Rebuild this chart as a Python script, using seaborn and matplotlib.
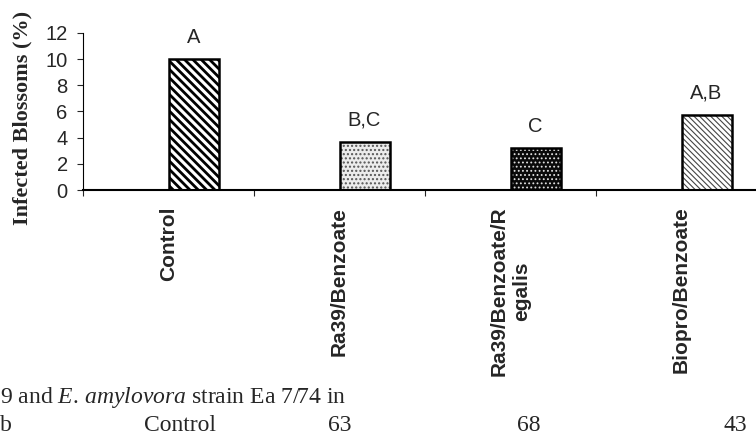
import numpy as np
import pandas as pd
import seaborn as sns
import matplotlib.pyplot as plt

treatments = ['Control', 'Ra39/Benzoate', 'Ra39/Benzoate/R\negalis', 'Biopro/Benzoate']
infected = [10.0, 3.7, 3.2, 5.7]
letters = ['A', 'B,C', 'C', 'A,B']
yticks = [0, 2, 4, 6, 8, 10, 12]
table_row = ['Control', '63', '68', '43']

sns.set_style('ticks')
plt.rcParams['font.family'] = ['Liberation Sans', 'DejaVu Sans']
plt.rcParams['mathtext.fontset'] = 'custom'
plt.rcParams['mathtext.rm'] = 'Liberation Serif'
plt.rcParams['mathtext.it'] = 'Liberation Serif:italic'

# the excel chart had an empty first series, so the real bars sit right of the category centre
df = pd.concat([
    pd.DataFrame({'treatment': treatments, 'infected': 0.0, 'series': 'blank'}),
    pd.DataFrame({'treatment': treatments, 'infected': infected, 'series': 'infected'}),
])

fig = plt.figure(figsize=(7.56, 4.48), dpi=100)
ax = fig.add_axes([83 / 756, 1 - 190 / 448, (767 - 83) / 756, 157 / 448])

sns.barplot(data=df, x='treatment', y='infected', hue='series', hue_order=['blank', 'infected'],
            order=treatments, width=0.585, ax=ax, legend=False, errorbar=None)

for p in ax.containers[0].patches:
    p.set_visible(False)

bars = ax.containers[-1]
faces = ['white', '#ececec', '#0a0a0a', 'white']
hatches = ['\\\\\\\\', '....', '....', '\\\\\\\\\\\\']
hatch_cols = ['black', '#555555', '#e0e0e0', '#444444']
hatch_lw = [2.0, 1.0, 0.8, 0.8]
for p, fc, h, hc, hl in zip(bars.patches, faces, hatches, hatch_cols, hatch_lw):
    p.set_facecolor(fc)
    p.set_edgecolor('black')
    p.set_linewidth(1.8)
    p.set_hatch(h)
    try:
        p.set_hatchcolor(hc)
    except AttributeError:
        p._hatch_color = plt.matplotlib.colors.to_rgba(hc)
    try:
        p.set_hatch_linewidth(hl)
    except AttributeError:
        p._hatch_linewidth = hl

ax.bar_label(bars, labels=letters, padding=9, fontsize=14.5)

ax.set_xlim(-0.5, 3.5)
ax.set_ylim(0, 12)
ax.set_yticks(yticks)
ax.tick_params(axis='y', labelsize=14.5, length=4, width=0.8, pad=7, direction='out')
ax.set_xticks(np.arange(-0.5, 4, 1), minor=True)
ax.tick_params(axis='x', which='major', length=0, pad=12)
ax.tick_params(axis='x', which='minor', length=4, width=0.8, direction='out')
ax.set_xticklabels(treatments, rotation=90, fontsize=15, fontweight='bold', va='top', ha='center',
                   multialignment='center')
ax.set_xlabel('')
ax.set_ylabel('')
sns.despine(ax=ax, top=True, right=True)
ax.spines['bottom'].set_linewidth(1.5)
ax.spines['left'].set_linewidth(0.8)
ax.spines['bottom'].set_color('black')
ax.spines['left'].set_color('black')

fig.text(22 / 756, 1 - 118 / 448, 'Infected Blossoms (%)', rotation=90, ha='center', va='center',
         fontsize=16, fontweight='bold', family='Liberation Serif')

# caption fragment cut off at the bottom of the page
fig.text(0, 1 - 397 / 448, r'9 and $E.\,amylovora$ strain Ea 7/74 in', ha='left', va='center',
         fontsize=17, family='Liberation Serif')
fig.text(0, 1 - 425 / 448, 'b', ha='left', va='center', fontsize=17, family='Liberation Serif')
for xpos, txt in zip([180, 340, 529, 735], table_row):
    fig.text(xpos / 756, 1 - 425 / 448, txt, ha='center', va='center', fontsize=17,
             family='Liberation Serif')

fig.savefig('out.png', dpi=100)
